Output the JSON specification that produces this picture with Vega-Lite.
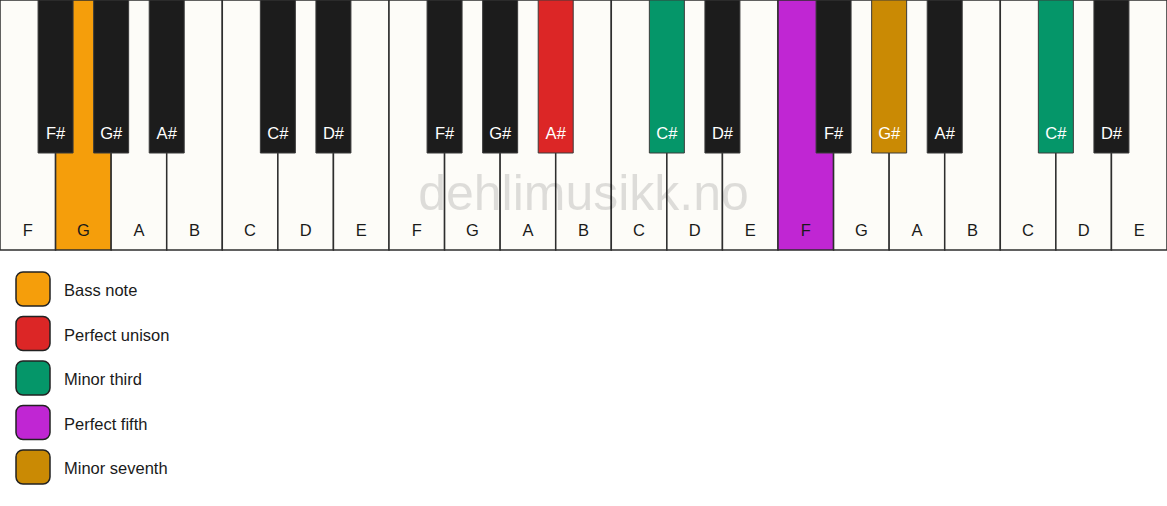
{
  "$schema": "https://vega.github.io/schema/vega-lite/v6.json",
  "description": "Piano keyboard with highlighted chord tones and a legend of intervals.",
  "width": 1167,
  "height": 506,
  "autosize": "none",
  "padding": 0,
  "background": "#ffffff",
  "config": {
    "view": {"stroke": null},
    "axis": {"disable": true},
    "font": "Liberation Sans"
  },
  "datasets": {
    "white": [
      {"note": "F", "pos": 0, "role": "white"},
      {"note": "G", "pos": 1, "role": "Bass note"},
      {"note": "A", "pos": 2, "role": "white"},
      {"note": "B", "pos": 3, "role": "white"},
      {"note": "C", "pos": 4, "role": "white"},
      {"note": "D", "pos": 5, "role": "white"},
      {"note": "E", "pos": 6, "role": "white"},
      {"note": "F", "pos": 7, "role": "white"},
      {"note": "G", "pos": 8, "role": "white"},
      {"note": "A", "pos": 9, "role": "white"},
      {"note": "B", "pos": 10, "role": "white"},
      {"note": "C", "pos": 11, "role": "white"},
      {"note": "D", "pos": 12, "role": "white"},
      {"note": "E", "pos": 13, "role": "white"},
      {"note": "F", "pos": 14, "role": "Perfect fifth"},
      {"note": "G", "pos": 15, "role": "white"},
      {"note": "A", "pos": 16, "role": "white"},
      {"note": "B", "pos": 17, "role": "white"},
      {"note": "C", "pos": 18, "role": "white"},
      {"note": "D", "pos": 19, "role": "white"},
      {"note": "E", "pos": 20, "role": "white"}
    ],
    "black": [
      {"note": "F#", "pos": 0.5, "role": "black"},
      {"note": "G#", "pos": 1.5, "role": "black"},
      {"note": "A#", "pos": 2.5, "role": "black"},
      {"note": "C#", "pos": 4.5, "role": "black"},
      {"note": "D#", "pos": 5.5, "role": "black"},
      {"note": "F#", "pos": 7.5, "role": "black"},
      {"note": "G#", "pos": 8.5, "role": "black"},
      {"note": "A#", "pos": 9.5, "role": "Perfect unison"},
      {"note": "C#", "pos": 11.5, "role": "Minor third"},
      {"note": "D#", "pos": 12.5, "role": "black"},
      {"note": "F#", "pos": 14.5, "role": "black"},
      {"note": "G#", "pos": 15.5, "role": "Minor seventh"},
      {"note": "A#", "pos": 16.5, "role": "black"},
      {"note": "C#", "pos": 18.5, "role": "Minor third"},
      {"note": "D#", "pos": 19.5, "role": "black"}
    ],
    "legend": [
      {"role": "Bass note", "order": 0},
      {"role": "Perfect unison", "order": 1},
      {"role": "Minor third", "order": 2},
      {"role": "Perfect fifth", "order": 3},
      {"role": "Minor seventh", "order": 4}
    ],
    "mark": [
      {"text": "dehlimusikk.no"}
    ]
  },
  "resolve": {"scale": {"x": "independent", "y": "independent"}},
  "layer": [
    {
      "layer": [
        {
          "data": {"name": "white"},
          "mark": {"type": "rect", "width": 55.57, "stroke": "#2e2e2e", "strokeWidth": 1.5},
          "encoding": {
            "x": {"field": "pos", "type": "quantitative", "scale": {"domain": [-0.5, 20.5], "padding": 0, "nice": false, "zero": false}},
            "y": {"datum": 0, "type": "quantitative", "scale": {"domain": [0, 506], "reverse": true, "padding": 0, "nice": false}},
            "y2": {"datum": 250},
            "color": {
              "field": "role",
              "type": "nominal",
              "legend": null,
              "scale": {
                "domain": ["white", "black", "Bass note", "Perfect unison", "Minor third", "Perfect fifth", "Minor seventh"],
                "range": ["#fdfcf8", "#1c1c1c", "#f59e0b", "#dc2626", "#059669", "#c026d3", "#ca8a04"]
              }
            }
          }
        },
        {
          "data": {"name": "mark"},
          "mark": {"type": "text", "fontSize": 50, "fill": "#000000", "opacity": 0.12, "align": "center", "baseline": "middle", "dy": 2},
          "encoding": {
            "x": {"datum": 10, "type": "quantitative"},
            "y": {"datum": 193, "type": "quantitative"},
            "text": {"field": "text"}
          }
        },
        {
          "data": {"name": "white"},
          "mark": {"type": "text", "fontSize": 16.5, "fill": "#1a1a1a", "align": "center", "baseline": "middle"},
          "encoding": {
            "x": {"field": "pos", "type": "quantitative"},
            "y": {"datum": 231, "type": "quantitative"},
            "text": {"field": "note"}
          }
        },
        {
          "data": {"name": "black"},
          "mark": {"type": "rect", "width": 35, "stroke": "#3a3a3a", "strokeWidth": 1},
          "encoding": {
            "x": {"field": "pos", "type": "quantitative"},
            "y": {"datum": 0, "type": "quantitative"},
            "y2": {"datum": 153},
            "color": {"field": "role", "type": "nominal", "legend": null}
          }
        },
        {
          "data": {"name": "black"},
          "mark": {"type": "text", "fontSize": 16.5, "fill": "#ffffff", "align": "center", "baseline": "middle"},
          "encoding": {
            "x": {"field": "pos", "type": "quantitative"},
            "y": {"datum": 134, "type": "quantitative"},
            "text": {"field": "note"}
          }
        }
      ]
    },
    {
      "data": {"name": "legend"},
      "layer": [
        {
          "mark": {"type": "rect", "width": 34, "height": 34, "cornerRadius": 7, "stroke": "#222222", "strokeWidth": 1.5},
          "encoding": {
            "x": {"datum": 33, "type": "quantitative", "scale": {"domain": [0, 1167], "padding": 0, "nice": false}},
            "y": {"field": "order", "type": "quantitative", "scale": {"domain": [-6.494, 4.876], "reverse": true, "padding": 0, "nice": false, "zero": false}},
            "color": {"field": "role", "type": "nominal", "legend": null}
          }
        },
        {
          "mark": {"type": "text", "fontSize": 16.5, "fill": "#1a1a1a", "align": "left", "baseline": "middle", "dy": 2},
          "encoding": {
            "x": {"datum": 64, "type": "quantitative"},
            "y": {"field": "order", "type": "quantitative"},
            "text": {"field": "role"}
          }
        }
      ]
    }
  ]
}
